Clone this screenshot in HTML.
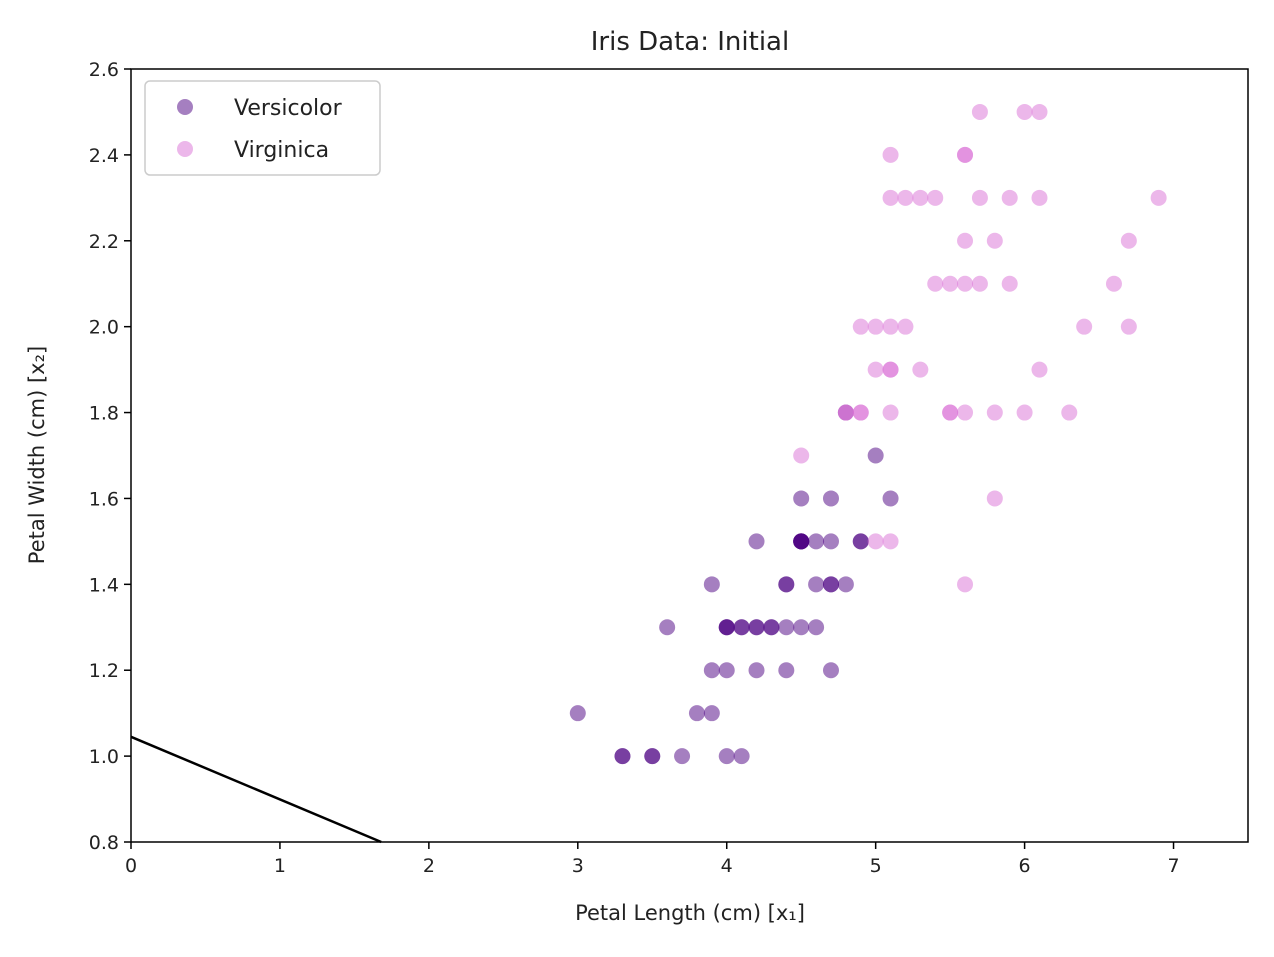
<!DOCTYPE html>
<html><head><meta charset="utf-8"><style>
body{margin:0;background:#fff;}
svg text{font-family:"DejaVu Sans","Liberation Sans",sans-serif;fill:#222;}
</style></head><body>
<svg id="chart" width="1274" height="952" xmlns="http://www.w3.org/2000/svg">
<text x="690" y="50" font-size="26" text-anchor="middle">Iris Data: Initial</text>
<g id="marks"></g>
<g id="axes"></g>
<text x="690" y="920" font-size="21" text-anchor="middle">Petal Length (cm) [x₁]</text>
<text transform="translate(44,455) rotate(-90)" font-size="21" text-anchor="middle">Petal Width (cm) [x₂]</text>
<g>
<rect x="145" y="81" width="235" height="94" rx="5" fill="#fff" stroke="#ccc" stroke-width="1.5"/>
<circle cx="185" cy="107" r="8" fill="#4b0082" fill-opacity="0.5"/>
<text x="234" y="115" font-size="22">Versicolor</text>
<circle cx="185" cy="149" r="8" fill="#da70d6" fill-opacity="0.5"/>
<text x="234" y="157" font-size="22">Virginica</text>
</g>
</svg>
<script>
const versiLen=[4.7,4.5,4.9,4.0,4.6,4.5,4.7,3.3,4.6,3.9,3.5,4.2,4.0,4.7,3.6,4.4,4.5,4.1,4.5,3.9,4.8,4.0,4.9,4.7,4.3,4.4,4.8,5.0,4.5,3.5,3.8,3.7,3.9,5.1,4.5,4.5,4.7,4.4,4.1,4.0,4.4,4.6,4.0,3.3,4.2,4.2,4.2,4.3,3.0,4.1];
const versiWid=[1.4,1.5,1.5,1.3,1.5,1.3,1.6,1.0,1.3,1.4,1.0,1.5,1.0,1.4,1.3,1.4,1.5,1.0,1.5,1.1,1.8,1.3,1.5,1.2,1.3,1.4,1.4,1.7,1.5,1.0,1.1,1.0,1.2,1.6,1.5,1.6,1.5,1.3,1.3,1.3,1.2,1.4,1.2,1.0,1.3,1.2,1.3,1.3,1.1,1.3];
const virgLen=[6.0,5.1,5.9,5.6,5.8,6.6,4.5,6.3,5.8,6.1,5.1,5.3,5.5,5.0,5.1,5.3,5.5,6.7,6.9,5.0,5.7,4.9,6.7,4.9,5.7,6.0,4.8,4.9,5.6,5.8,6.1,6.4,5.6,5.1,5.6,6.1,5.6,5.5,4.8,5.4,5.6,5.1,5.1,5.9,5.7,5.2,5.0,5.2,5.4,5.1];
const virgWid=[2.5,1.9,2.1,1.8,2.2,2.1,1.7,1.8,1.8,2.5,2.0,1.9,2.1,2.0,2.4,2.3,1.8,2.2,2.3,1.5,2.3,2.0,2.0,1.8,2.1,1.8,1.8,1.8,2.1,1.6,1.9,2.0,2.2,1.5,1.4,2.3,2.4,1.8,1.8,2.1,2.4,2.3,1.9,2.3,2.5,2.3,1.9,2.0,2.3,1.8];
const xTicks=[0,1,2,3,4,5,6,7];
const yTicks=[0.8,1.0,1.2,1.4,1.6,1.8,2.0,2.2,2.4,2.6];
const lineX=[0,1.68];
const lineY=[1.045,0.8];
const X0=131,X1=1248,Y0=842,Y1=69,xmin=0,xmax=7.5,ymin=0.8,ymax=2.6;
const sx=v=>X0+(v-xmin)/(xmax-xmin)*(X1-X0);
const sy=v=>Y0-(v-ymin)/(ymax-ymin)*(Y0-Y1);
const NS="http://www.w3.org/2000/svg";
const marks=document.getElementById('marks'),axes=document.getElementById('axes');
function mk(t,a,p){const e=document.createElementNS(NS,t);for(const k in a)e.setAttribute(k,a[k]);p.appendChild(e);return e;}
versiLen.forEach((v,i)=>{const c=mk('circle',{cx:sx(v),cy:sy(versiWid[i]),r:8,fill:'#4b0082','fill-opacity':0.5},marks);

});
virgLen.forEach((v,i)=>{const c=mk('circle',{cx:sx(v),cy:sy(virgWid[i]),r:8,fill:'#da70d6','fill-opacity':0.5},marks);

});
const ln=mk('line',{x1:sx(lineX[0]),y1:sy(lineY[0]),x2:sx(lineX[1]),y2:sy(lineY[1]),stroke:'#000','stroke-width':2.5},marks);


const fr=mk('rect',{x:X0,y:Y1,width:X1-X0,height:Y0-Y1,fill:'none',stroke:'#000','stroke-width':1.5},axes);


xTicks.forEach(t=>{const x=sx(t);mk('line',{x1:x,y1:Y0,x2:x,y2:Y0+7,stroke:'#000','stroke-width':1.5},axes);
const tx=mk('text',{x:x,y:Y0+30,'font-size':19,'text-anchor':'middle'},axes);tx.textContent=t;

});
yTicks.forEach(t=>{const y=sy(t);mk('line',{x1:X0-7,y1:y,x2:X0,y2:y,stroke:'#000','stroke-width':1.5},axes);
const tx=mk('text',{x:X0-12,y:y+7,'font-size':19,'text-anchor':'end'},axes);tx.textContent=t.toFixed(1);

});
</script>
</body></html>
